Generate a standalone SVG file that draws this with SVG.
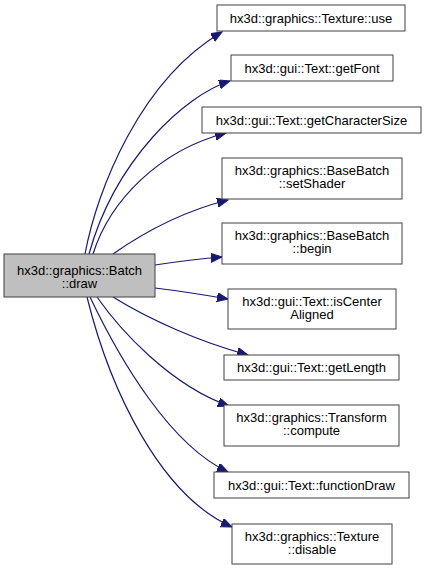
<svg xmlns="http://www.w3.org/2000/svg" width="427" height="570" viewBox="0 0 427 570">
<style>
.n rect{fill:#fff;stroke:#404040;stroke-width:1}
#main rect{fill:#bfbfbf}
text{font-family:"Liberation Sans",Arial,sans-serif;font-size:13px;fill:#000;text-anchor:middle}
.e path{fill:none;stroke:#191970;stroke-width:1.2;marker-end:url(#ah)}
</style>
<defs>
<marker id="ah" markerUnits="userSpaceOnUse" markerWidth="12" markerHeight="10" refX="11" refY="4.5" orient="auto">
<path d="M0,0 L11,4.5 L0,9 z" fill="#191970" stroke="#191970"/>
</marker>
</defs>
<g class="e">
<path d="M85,254 C97,190 140,80 222,32"/>
<path d="M89,254 C115,160 185,95 230,81"/>
<path d="M93,254 C110,200 160,150 226,133"/>
<path d="M113,254 C140,235 180,212 228,200"/>
<path d="M155,265 C175,262 195,259 222,257"/>
<path d="M155,288 C180,291 205,295 228,299"/>
<path d="M113,297 C150,320 200,342 248,355"/>
<path d="M97,297 C120,330 170,385 229,406"/>
<path d="M90,297 C120,360 170,445 228,472"/>
<path d="M87,297 C110,390 160,495 232,527"/>
</g>
<g id="main" class="n"><rect x="4" y="254" width="151" height="43"/><text x="79.5" y="275">hx3d::graphics::Batch</text><text x="79.5" y="288">::draw</text></g>
<g id="n1" class="n"><rect x="217" y="5" width="188" height="26"/><text x="311" y="22.5">hx3d::graphics::Texture::use</text></g>
<g id="n2" class="n"><rect x="231" y="55" width="162" height="26"/><text x="312" y="72.5">hx3d::gui::Text::getFont</text></g>
<g id="n3" class="n"><rect x="202" y="107" width="219" height="26"/><text x="311.5" y="124.5">hx3d::gui::Text::getCharacterSize</text></g>
<g id="n4" class="n"><rect x="222" y="158" width="180" height="41"/><text x="312" y="175">hx3d::graphics::BaseBatch</text><text x="312" y="188">::setShader</text></g>
<g id="n5" class="n"><rect x="222" y="223" width="180" height="41"/><text x="312" y="240">hx3d::graphics::BaseBatch</text><text x="312" y="253">::begin</text></g>
<g id="n6" class="n"><rect x="228" y="289" width="168" height="40"/><text x="312" y="305.5">hx3d::gui::Text::isCenter</text><text x="312" y="318.5">Aligned</text></g>
<g id="n7" class="n"><rect x="224" y="355" width="175" height="25"/><text x="311.5" y="372">hx3d::gui::Text::getLength</text></g>
<g id="n8" class="n"><rect x="224" y="405" width="175" height="41"/><text x="311.5" y="422">hx3d::graphics::Transform</text><text x="311.5" y="435">::compute</text></g>
<g id="n9" class="n"><rect x="214" y="472" width="195" height="26"/><text x="311.5" y="489.5">hx3d::gui::Text::functionDraw</text></g>
<g id="n10" class="n"><rect x="232" y="524" width="160" height="40"/><text x="312" y="541">hx3d::graphics::Texture</text><text x="312" y="554">::disable</text></g>
</svg>
